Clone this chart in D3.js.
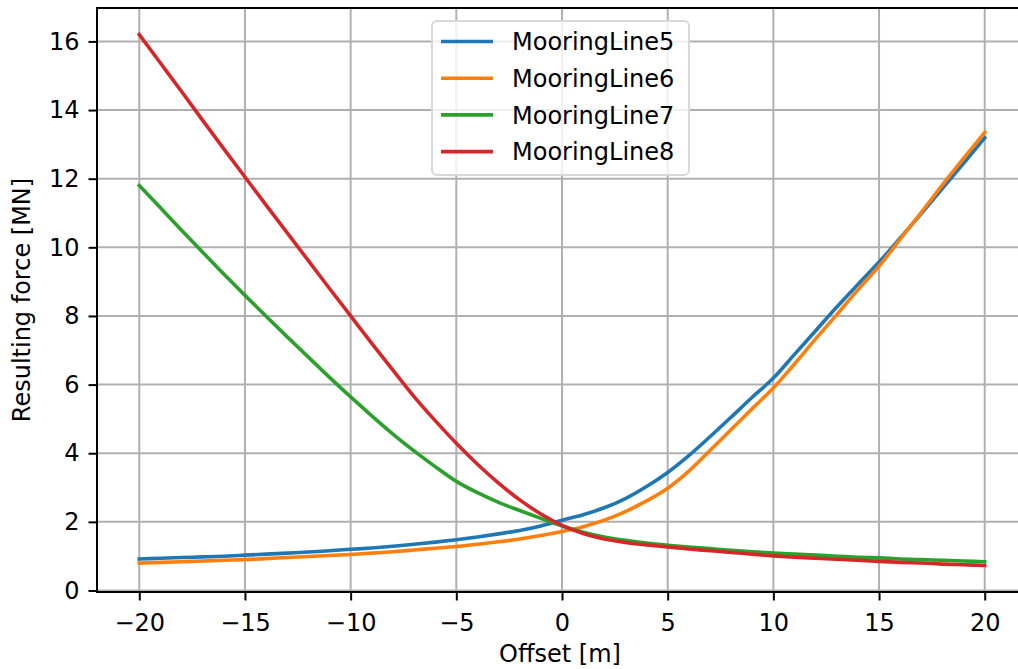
<!DOCTYPE html>
<html>
<head>
<meta charset="utf-8">
<script src="https://cdn.jsdelivr.net/npm/d3@7"></script>
<style>
  body { margin: 0; background: #fff; }
  svg { font-family: "DejaVu Sans", sans-serif; }
</style>
</head>
<body>
<svg width="1018" height="669"></svg>
<script>
// offsets in m
var offsets = d3.range(-20, 21);

// resulting force in MN at each metre
var line5 = [0.92, 0.94, 0.96, 0.98, 1.00, 1.03, 1.06, 1.09, 1.12, 1.16, 1.20,
  1.24, 1.29, 1.35, 1.41, 1.48, 1.56, 1.65, 1.75, 1.88, 2.05,
  2.21, 2.41, 2.68, 3.03, 3.44, 3.93, 4.48, 5.05, 5.63, 6.19,
  6.88, 7.57, 8.26, 8.92, 9.57, 10.27, 10.98, 11.72, 12.45, 13.19];
var line6 = [0.80, 0.82, 0.84, 0.86, 0.88, 0.90, 0.93, 0.96, 0.99, 1.02, 1.05,
  1.09, 1.13, 1.18, 1.23, 1.28, 1.35, 1.42, 1.50, 1.60, 1.72,
  1.86, 2.05, 2.30, 2.61, 2.98, 3.48, 4.08, 4.69, 5.30, 5.90,
  6.60, 7.33, 8.04, 8.76, 9.45, 10.24, 11.02, 11.82, 12.59, 13.35];
var line7 = [11.80, 11.15, 10.50, 9.86, 9.22, 8.60, 7.99, 7.39, 6.80, 6.21, 5.64,
  5.09, 4.56, 4.07, 3.61, 3.18, 2.85, 2.57, 2.33, 2.10, 1.88,
  1.70, 1.56, 1.46, 1.38, 1.32, 1.27, 1.22, 1.17, 1.13, 1.09,
  1.06, 1.03, 1.00, 0.97, 0.95, 0.92, 0.90, 0.88, 0.86, 0.84];
var line8 = [16.20, 15.37, 14.54, 13.70, 12.87, 12.05, 11.23, 10.42, 9.61, 8.80, 8.00,
  7.20, 6.42, 5.65, 4.95, 4.29, 3.68, 3.13, 2.64, 2.23, 1.90,
  1.66, 1.50, 1.40, 1.33, 1.27, 1.21, 1.16, 1.11, 1.06, 1.01,
  0.97, 0.94, 0.91, 0.88, 0.85, 0.82, 0.80, 0.77, 0.75, 0.73];

var names = ["MooringLine5", "MooringLine6", "MooringLine7", "MooringLine8"];
var xTicks = [-20, -15, -10, -5, 0, 5, 10, 15, 20];
var yTicks = [0, 2, 4, 6, 8, 10, 12, 14, 16];

var series = [line5, line6, line7, line8].map(function(vals, i) {
  return { name: names[i], values: vals.map(function(v, j) { return [offsets[j], v]; }) };
});

var svg = d3.select("svg");
var margin = {left: 97, right: 1027, top: 8, bottom: 592};

var color = d3.scaleOrdinal()
    .domain(names)
    .range(["#1f77b4", "#ff7f0e", "#2ca02c", "#d62728"]);

// matplotlib style 5% margins
var xExt = d3.extent(offsets);
var yExt = d3.extent([].concat(line5, line6, line7, line8));
var xPad = (xExt[1] - xExt[0]) * 0.05, yPad = (yExt[1] - yExt[0]) * 0.05;

var x = d3.scaleLinear().domain([xExt[0] - xPad, xExt[1] + xPad]).range([margin.left, margin.right]);
var y = d3.scaleLinear().domain([yExt[0] - yPad, yExt[1] + yPad]).range([margin.bottom, margin.top]);

// grid
svg.append("g")
  .selectAll("line")
  .data(xTicks)
  .enter().append("line")
    .attr("x1", function(d) { return x(d); })
    .attr("x2", function(d) { return x(d); })
    .attr("y1", margin.top).attr("y2", margin.bottom)
    .style("stroke", "#b0b0b0").style("stroke-width", 2);
svg.append("g")
  .selectAll("line")
  .data(yTicks)
  .enter().append("line")
    .attr("y1", function(d) { return y(d); })
    .attr("y2", function(d) { return y(d); })
    .attr("x1", margin.left).attr("x2", margin.right)
    .style("stroke", "#b0b0b0").style("stroke-width", 2);

// lines
var line = d3.line()
    .x(function(d) { return x(d[0]); })
    .y(function(d) { return y(d[1]); })
    .curve(d3.curveMonotoneX);

svg.append("g")
  .selectAll("path")
  .data(series)
  .enter().append("path")
    .attr("d", function(d) { return line(d.values); })
    .style("fill", "none")
    .style("stroke", function(d) { return color(d.name); })
    .style("stroke-width", 3.6)
    .style("stroke-linecap", "square");

// axes
var xAxis = svg.append("g")
    .attr("transform", "translate(0," + margin.bottom + ")")
    .call(d3.axisBottom(x).tickValues(xTicks).tickSize(8.5).tickPadding(10)
      .tickFormat(function(d) { return d < 0 ? "\u2212" + Math.abs(d) : d; }));
var yAxis = svg.append("g")
    .attr("transform", "translate(" + margin.left + ",0)")
    .call(d3.axisLeft(y).tickValues(yTicks).tickSize(8.5).tickPadding(9));

[xAxis, yAxis].forEach(function(a) {
  a.select(".domain").remove();
  a.selectAll(".tick line").style("stroke", "#000").style("stroke-width", 2);
  a.selectAll(".tick text")
    .style("font-size", "24px")
    .style("font-family", "DejaVu Sans")
    .style("fill", "#000");
});
xAxis.selectAll(".tick text").attr("dy", "0.85em");

// spines
svg.append("rect")
    .attr("x", margin.left).attr("y", margin.top)
    .attr("width", margin.right - margin.left).attr("height", margin.bottom - margin.top)
    .style("fill", "none").style("stroke", "#000").style("stroke-width", 2);

// axis labels
svg.append("text")
    .attr("x", (margin.left + 1017) / 2 + 3)
    .attr("y", 662)
    .attr("text-anchor", "middle")
    .style("font-size", "24px")
    .text("Offset [m]");
svg.append("text")
    .attr("transform", "translate(30," + (margin.top + margin.bottom) / 2 + ") rotate(-90)")
    .attr("text-anchor", "middle")
    .style("font-size", "24px")
    .text("Resulting force [MN]");

// legend
var legend = svg.append("g").attr("transform", "translate(432,21)");
legend.append("rect")
    .attr("width", 257).attr("height", 154)
    .attr("rx", 5)
    .style("fill", "#fff").style("fill-opacity", 0.8)
    .style("stroke", "#d8d8d8").style("stroke-width", 2);
var item = legend.selectAll(".item")
    .data(names)
  .enter().append("g")
    .attr("class", "item")
    .attr("transform", function(d, i) { return "translate(0," + (20.5 + i * 36.7) + ")"; });
item.append("line")
    .attr("x1", 9).attr("x2", 61)
    .style("stroke", function(d) { return color(d); })
    .style("stroke-width", 3.6);
item.append("text")
    .attr("x", 80)
    .attr("dy", "0.36em")
    .style("font-size", "24px")
    .text(function(d) { return d; });
</script>
</body>
</html>
